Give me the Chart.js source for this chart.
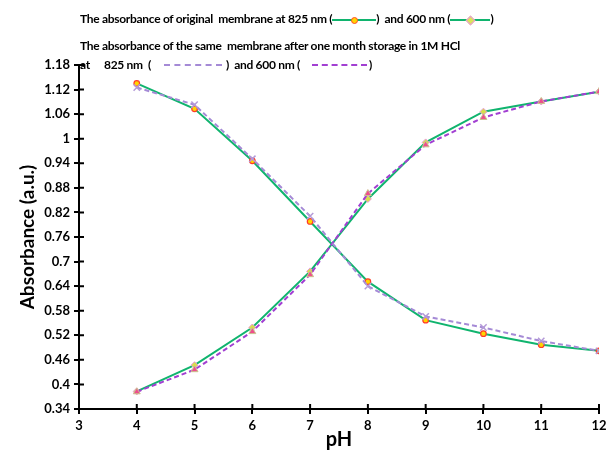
<!DOCTYPE html>
<html>
<head>
<meta charset="utf-8">
<script src="https://cdn.jsdelivr.net/npm/chart.js@4"></script>
<style>
  html, body { margin:0; padding:0; background:#fff; }
  #wrap { position:relative; width:606px; height:452px; }
  canvas { position:absolute; left:0; top:0; }
  .leg { position:absolute; font-family: Lato, "Open Sans", sans-serif; font-weight:bold; font-size:12px; letter-spacing:-0.3px; color:#000; white-space:pre; line-height:16px; }
  .smp { display:inline-block; position:relative; width:40px; height:10px; vertical-align:middle; }
  .smp i { position:absolute; left:0; right:0; top:4px; height:0; }
  .smp b { position:absolute; left:16px; top:1px; width:7px; height:7px; }
  .dash { position:absolute; height:0; }
</style>
</head>
<body>
<div id="wrap">
  <canvas id="c" width="606" height="452"></canvas>
  <div class="leg" style="left:80px;top:11px;">The absorbance of original  membrane at 825 nm (<span class="smp" style="width:44px"><i style="border-top:2px solid #10b46e"></i><b style="border-radius:50%;background:#ffd400;border:1px solid #ff4a2a;width:5px;height:5px;left:19px;top:2px"></b></span>)  and 600 nm (<span class="smp"><i style="border-top:2px solid #10b46e"></i><b style="background:#dce35a;border:1px solid #e79ad8;width:5px;height:5px;left:17px;top:2px;transform:rotate(45deg)"></b></span>)</div>
  <div class="leg" style="left:80px;top:38px;">The absorbance of the same  membrane after one month storage in 1M HCl</div>
  <div class="leg" style="left:80px;top:57px;">at</div>
  <div class="leg" style="left:104px;top:57px;">825 nm  (</div>
  <div class="dash" style="left:164px;top:64px;width:58px;border-top:2px dashed #a58ad6"></div>
  <div class="leg" style="left:226px;top:57px;">)  and 600 nm (</div>
  <div class="dash" style="left:312px;top:64px;width:55px;border-top:2px dashed #a23fd2"></div>
  <div class="leg" style="left:369px;top:57px;">)</div>
</div>
<script>
const pH = [4, 5, 6, 7, 8, 9, 10, 11, 12];
const orig825 = [1.135, 1.073, 0.946, 0.798, 0.651, 0.557, 0.524, 0.497, 0.482];
const orig600 = [0.383, 0.447, 0.539, 0.676, 0.853, 0.991, 1.066, 1.091, 1.115];
const hcl825  = [1.125, 1.083, 0.951, 0.811, 0.640, 0.566, 0.539, 0.506, 0.482];
const hcl600  = [0.382, 0.436, 0.529, 0.668, 0.866, 0.985, 1.052, 1.091, 1.115];
const yTicks = [0.34, 0.4, 0.46, 0.52, 0.58, 0.64, 0.7, 0.76, 0.82, 0.88, 0.94, 1, 1.06, 1.12, 1.18];
const xTicks = [3, 4, 5, 6, 7, 8, 9, 10, 11, 12];

const pts = arr => arr.map((v, i) => ({ x: pH[i], y: v }));
const tickFont = { family: 'Lato, "Open Sans", sans-serif', size: 13, weight: 'bold' };
const titleFont = { family: 'Lato, "Open Sans", sans-serif', size: 19, weight: 'bold' };

const innerTicks = {
  id: 'innerTicks',
  afterDraw(chart) {
    const ctx = chart.ctx, xs = chart.scales.x, ys = chart.scales.y;
    ctx.save();
    ctx.strokeStyle = '#000'; ctx.lineWidth = 2;
    ctx.beginPath();
    yTicks.forEach(v => { const p = ys.getPixelForValue(v); ctx.moveTo(xs.left, p); ctx.lineTo(xs.left + 5, p); });
    xTicks.forEach(v => { const p = xs.getPixelForValue(v); ctx.moveTo(p, ys.bottom); ctx.lineTo(p, ys.bottom - 5); });
    ctx.stroke();
    ctx.restore();
  }
};

new Chart(document.getElementById('c'), {
  type: 'line',
  data: {
    datasets: [
      { label: 'hcl825', data: pts(hcl825), borderColor: '#a58ad6', borderWidth: 2, borderDash: [5, 3],
        pointStyle: 'crossRot', pointRadius: 4.5, pointBorderColor: '#b49ad8', pointBorderWidth: 1.5, pointBackgroundColor: '#b49ad8' },
      { label: 'hcl600', data: pts(hcl600), borderColor: '#a23fd2', borderWidth: 2, borderDash: [5, 3],
        pointStyle: 'triangle', pointRadius: 4, pointBorderColor: '#c9c48e', pointBorderWidth: 1, pointBackgroundColor: '#ef4d8d' },
      { label: 'orig825', data: pts(orig825), borderColor: '#10b46e', borderWidth: 2,
        pointStyle: 'circle', pointRadius: 2.8, pointBorderColor: '#ff3a2a', pointBorderWidth: 1.2, pointBackgroundColor: '#ffd400' },
      { label: 'orig600', data: pts(orig600), borderColor: '#10b46e', borderWidth: 2,
        pointStyle: 'rectRot', pointRadius: 3.5, pointBorderColor: '#e79ad8', pointBorderWidth: 1, pointBackgroundColor: '#d6e04a' }
    ]
  },
  options: {
    responsive: false,
    animation: false,
    layout: { padding: { top: 65, left: 0, right: 0, bottom: 0 } },
    plugins: { legend: { display: false }, tooltip: { enabled: false } },
    scales: {
      x: {
        type: 'linear', min: 3, max: 12,
        afterBuildTicks: s => { s.ticks = xTicks.map(v => ({ value: v })); },
        afterFit: s => { s.height = 43; s.paddingRight = 7; },
        grid: { drawOnChartArea: false, color: '#000', lineWidth: 2, tickLength: 5 },
        border: { color: '#000', width: 2 },
        ticks: { color: '#000', font: tickFont, padding: 4, maxRotation: 0, autoSkip: false },
        title: { display: true, text: 'pH', color: '#000', font: { ...titleFont, size: 20 }, padding: { top: -4, bottom: 0 } }
      },
      y: {
        type: 'linear', min: 0.34, max: 1.18,
        afterBuildTicks: s => { s.ticks = yTicks.map(v => ({ value: v })); },
        afterFit: s => { s.width = 79; },
        grid: { drawOnChartArea: false, color: '#000', lineWidth: 2, tickLength: 5 },
        border: { color: '#000', width: 2 },
        ticks: { color: '#000', font: tickFont, padding: 4, autoSkip: false, callback: v => String(parseFloat(v.toFixed(2))) },
        title: { display: true, text: 'Absorbance (a.u.)', color: '#000', font: titleFont, padding: { top: 16, bottom: 4 } }
      }
    }
  },
  plugins: [innerTicks]
});
</script>
</body>
</html>
